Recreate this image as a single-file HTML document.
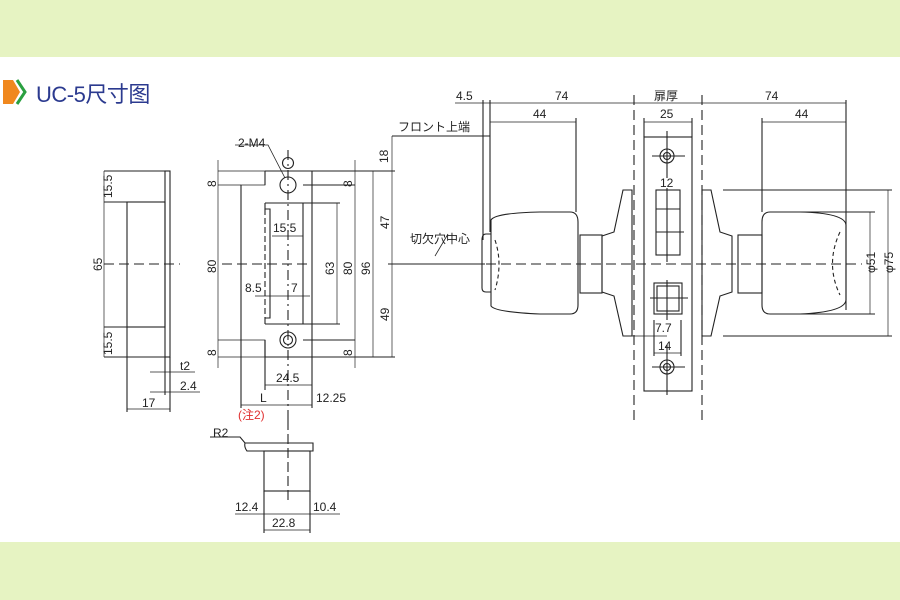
<!DOCTYPE html>
<html><head><meta charset="utf-8"><style>
body{margin:0;width:900px;height:600px;background:#fff;overflow:hidden}
svg{display:block}
text{font-family:"Liberation Sans","Noto Sans CJK JP",sans-serif;font-size:12px;fill:#222}
</style></head><body>
<svg width="900" height="600" viewBox="0 0 900 600">
<rect x="0" y="0" width="900" height="57" fill="#e6f3c2"/>
<rect x="0" y="542" width="900" height="58" fill="#e6f3c2"/>
<polygon points="3,80 13,80 20,92 13,104 3,104" fill="#f0881e"/>
<polyline points="17,80 25,92 17,104" fill="none" stroke="#2aa040" stroke-width="3"/>
<text x="36" y="102" style="font-size:22px;fill:#2b3a8f;letter-spacing:-0.5px">UC-5尺寸图</text>
<g stroke="#222" stroke-width="1.1" fill="none">
<!-- side view -->
<line x1="104" y1="171" x2="170" y2="171"/><line x1="104" y1="357" x2="170" y2="357"/>
<rect x="165" y="171" width="5" height="186"/>
<rect x="127" y="202" width="38" height="125"/>
<line x1="104" y1="202" x2="127" y2="202"/><line x1="104" y1="327" x2="127" y2="327"/>
<line x1="104" y1="171" x2="104" y2="357" stroke-width="0.7"/>
<line x1="104" y1="264" x2="180" y2="264" stroke-dasharray="10,5"/>
<line x1="127" y1="327" x2="127" y2="412"/><line x1="170" y1="357" x2="170" y2="412"/><line x1="165" y1="357" x2="165" y2="395"/>
<line x1="127" y1="409" x2="170" y2="409" stroke-width="0.7"/>
<line x1="150" y1="372" x2="195" y2="372" stroke-width="0.7"/><line x1="150" y1="392" x2="200" y2="392" stroke-width="0.7"/>
<!-- strike plate -->
<path d="M218 171 H265 V185 H241 V340 H265 V357 H218" stroke-width="0.8"/>
<path d="M265 171 H355 M265 357 H355 M312 171 V357 M265 185 V171 M265 340 V357" />
<path d="M241 185 H218 M241 340 H218" stroke-width="0.7"/>
<line x1="241" y1="340" x2="241" y2="408"/>
<line x1="241" y1="185" x2="241" y2="340"/>
<path d="M303 185 H355 M303 340 H355"/>
<line x1="218" y1="160" x2="218" y2="368" stroke-width="0.7"/>
<path d="M265 203 H303 V324 H265 M265 203 v6 h5 v109 h-5 v6"/>
<line x1="265" y1="209" x2="265" y2="318" stroke-dasharray="6,3"/>
<circle cx="288" cy="185" r="8"/><circle cx="288" cy="163" r="5.5"/>
<circle cx="288" cy="340" r="8"/><circle cx="288" cy="340" r="4.5"/>
<line x1="288" y1="150" x2="288" y2="420" stroke-dasharray="10,4,2,4"/>
<line x1="222" y1="264" x2="312" y2="264" stroke-dasharray="10,5"/>
<path d="M303 203 H340 M303 324 H340"/>
<line x1="337" y1="203" x2="337" y2="324" stroke-width="0.7"/>
<line x1="355" y1="160" x2="355" y2="368" stroke-width="0.7"/>
<line x1="373" y1="171" x2="373" y2="357" stroke-width="0.7"/>
<path d="M312 171 H395 M312 357 H395"/>
<line x1="392" y1="136" x2="392" y2="357" stroke-width="0.7"/>
<line x1="388" y1="264" x2="485" y2="264"/>
<line x1="392" y1="136" x2="490" y2="136"/>
<line x1="435" y1="256" x2="448" y2="234" stroke-width="0.8"/>
<line x1="272" y1="236" x2="303" y2="236" stroke-width="0.7"/>
<line x1="255" y1="296" x2="310" y2="296" stroke-width="0.7"/>
<line x1="265" y1="385" x2="312" y2="385" stroke-width="0.7"/>
<line x1="265" y1="340" x2="265" y2="390"/>
<line x1="312" y1="357" x2="312" y2="408"/>
<line x1="241" y1="405" x2="312" y2="405" stroke-width="0.7"/>
<path d="M235 145 H268 L285 178" stroke-width="0.8"/>
<!-- bottom piece -->
<path d="M210 437 H240 L245 443 H313 V451 H247 Q244 447 245 443"/>
<rect x="264" y="451" width="46" height="40"/>
<line x1="288" y1="420" x2="288" y2="500" stroke-dasharray="10,4"/>
<path d="M264 491 V533 M310 491 V533"/>
<line x1="235" y1="514" x2="340" y2="514" stroke-width="0.7"/>
<line x1="264" y1="530" x2="310" y2="530" stroke-width="0.7"/>
<!-- knob set -->
<line x1="483" y1="100" x2="483" y2="240"/><line x1="490" y1="100" x2="490" y2="232"/>
<line x1="455" y1="103" x2="846" y2="103" stroke-width="0.7"/>
<line x1="490" y1="122" x2="576" y2="122" stroke-width="0.7"/>
<line x1="576" y1="118" x2="576" y2="212"/>
<line x1="634" y1="95" x2="634" y2="425" stroke-dasharray="10,5"/>
<line x1="702" y1="95" x2="702" y2="425" stroke-dasharray="10,5"/>
<line x1="762" y1="118" x2="762" y2="212"/><line x1="846" y1="100" x2="846" y2="310"/>
<line x1="762" y1="122" x2="846" y2="122" stroke-width="0.7"/>
<line x1="644" y1="122" x2="692" y2="122" stroke-width="0.7"/>
<rect x="644" y="137" width="48" height="254"/>
<path d="M644 137 V118 M692 137 V118"/>
<!-- left knob -->
<path d="M632 190 H623 L614 232 L602 236 V292 L614 296 L623 336 H632 Z"/>
<rect x="580" y="235" width="22" height="58"/>
<path d="M491 220 Q495 213 540 212 H570 Q578 212 578 222 V305 Q578 314 570 314 H540 Q495 312 491 306 Z"/>
<path d="M491 234 H486 Q482 234 482 240 V288 Q482 292 486 292 H491"/>
<path d="M495 240 Q503 264 495 290" stroke-dasharray="4,3"/>
<!-- right knob -->
<path d="M702 190 H711 L720 232 L732 236 V292 L720 296 L711 336 H702 Z"/>
<rect x="738" y="235" width="24" height="58"/>
<path d="M846 225 Q845 213 800 212 H770 Q762 212 762 222 V305 Q762 314 770 314 H800 Q845 312 846 300 Z"/>
<path d="M840 232 Q825 264 840 295" stroke-dasharray="4,3"/>
<line x1="486" y1="264" x2="862" y2="264" stroke-dasharray="10,5"/>
<path d="M723 190 H892 M723 336 H892 M800 212 H875 M800 314 H875"/>
<line x1="870" y1="212" x2="870" y2="314" stroke-width="0.7"/>
<line x1="888" y1="190" x2="888" y2="336" stroke-width="0.7"/>
<!-- front plate details -->
<circle cx="667" cy="156" r="7"/><circle cx="667" cy="156" r="3.5"/>
<circle cx="667" cy="367" r="7"/><circle cx="667" cy="367" r="3.5"/>
<path d="M667 131 V178 M652 156 H685 M667 345 V395 M652 367 H685"/>
<rect x="656" y="190" width="24" height="65"/>
<path d="M656 209 H680 M656 232 H684 M667 188 V262"/>
<rect x="654" y="283" width="28" height="31"/><rect x="657" y="286" width="22" height="25"/>
<path d="M650 298 H688 M667 280 V320"/>
<line x1="654" y1="320" x2="654" y2="356"/><line x1="681" y1="320" x2="681" y2="356"/>
<line x1="630" y1="336" x2="667" y2="336" stroke-width="0.7"/>
<line x1="654" y1="353" x2="681" y2="353" stroke-width="0.7"/>
</g>
<text x="86" y="198" transform="rotate(-90 99 185)">15.5</text>
<text x="90" y="269" transform="rotate(-90 97 264)">65</text>
<text x="86" y="355" transform="rotate(-90 99 342)">15.5</text>
<text x="142" y="407">17</text>
<text x="180" y="370">t2</text>
<text x="180" y="390">2.4</text>
<text x="204" y="183" transform="rotate(-90 212 179)">8</text>
<text x="203" y="268" transform="rotate(-90 212 264)">80</text>
<text x="204" y="352" transform="rotate(-90 212 348)">8</text>
<text x="340" y="183" transform="rotate(-90 348 179)">8</text>
<text x="340" y="352" transform="rotate(-90 348 348)">8</text>
<text x="319" y="268" transform="rotate(-90 330 264)">63</text>
<text x="337" y="268" transform="rotate(-90 348 264)">80</text>
<text x="355" y="268" transform="rotate(-90 366 264)">96</text>
<text x="374" y="222" transform="rotate(-90 385 218)">47</text>
<text x="374" y="314" transform="rotate(-90 385 310)">49</text>
<text x="375" y="158" transform="rotate(-90 384 154)">18</text>
<text x="238" y="147">2-M4</text>
<text x="273" y="232">15.5</text>
<text x="245" y="292">8.5</text>
<text x="291" y="292">7</text>
<text x="276" y="382">24.5</text>
<text x="260" y="402">L</text>
<text x="316" y="402">12.25</text>
<text x="238" y="419" style="fill:#e03030">(注2)</text>
<text x="213" y="437">R2</text>
<text x="235" y="511">12.4</text>
<text x="313" y="511">10.4</text>
<text x="272" y="527">22.8</text>
<text x="398" y="131">フロント上端</text>
<text x="410" y="243">切欠穴中心</text>
<text x="456" y="100">4.5</text>
<text x="555" y="100">74</text>
<text x="654" y="100">扉厚</text>
<text x="533" y="118">44</text>
<text x="660" y="118">25</text>
<text x="765" y="100">74</text>
<text x="795" y="118">44</text>
<text x="660" y="187">12</text>
<text x="655" y="332">7.7</text>
<text x="658" y="350">14</text>
<text x="855" y="275" transform="rotate(-90 864 264)">φ51</text>
<text x="873" y="275" transform="rotate(-90 882 264)">φ75</text>
</svg>
</body></html>
